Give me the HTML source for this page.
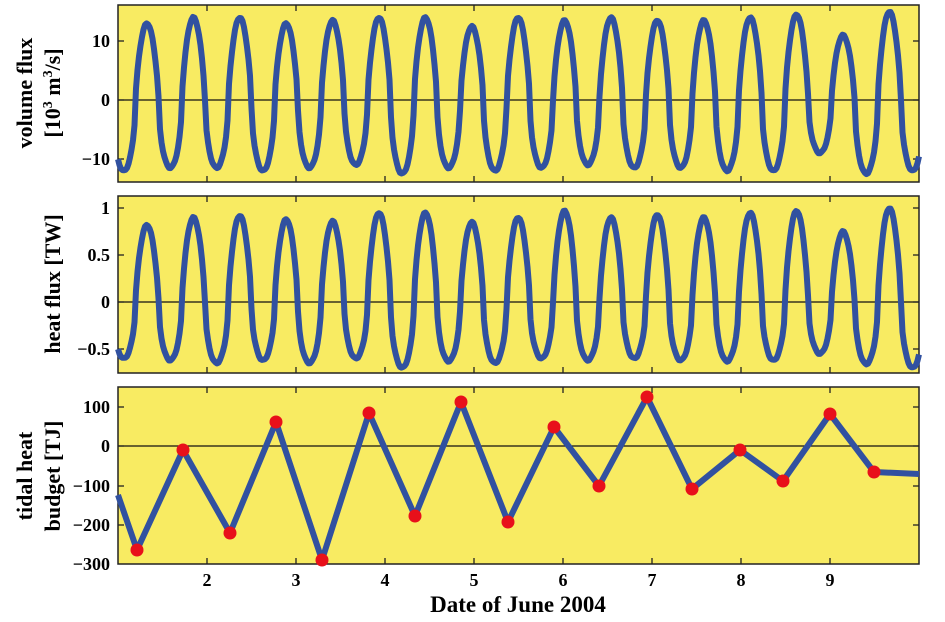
<!DOCTYPE html>
<html><head><meta charset="utf-8"><style>
body{margin:0;background:#fff;}
svg{display:block;font-family:"Liberation Serif",serif;font-weight:bold;}
</style></head><body>
<svg id="s" width="945" height="622" xmlns="http://www.w3.org/2000/svg">
<rect x="118" y="5" width="801" height="177" fill="#f8eb62" stroke="#222" stroke-width="1.5"/>
<rect x="118" y="196" width="801" height="177" fill="#f8eb62" stroke="#222" stroke-width="1.5"/>
<rect x="118" y="387" width="801" height="177" fill="#f8eb62" stroke="#222" stroke-width="1.5"/>
<line x1="118" y1="100" x2="919" y2="100" stroke="#111" stroke-width="1.3"/>
<line x1="118" y1="302" x2="919" y2="302" stroke="#111" stroke-width="1.3"/>
<line x1="118" y1="446" x2="919" y2="446" stroke="#111" stroke-width="1.3"/>
<g id="ticks" stroke="#222" stroke-width="1.3"></g>
<g font-size="18" text-anchor="end">
<text x="110" y="47">10</text><text x="110" y="106">0</text><text x="110" y="165">−10</text>
<text x="110" y="214">1</text><text x="110" y="261">0.5</text><text x="110" y="308">0</text><text x="110" y="355">−0.5</text>
<text x="110" y="413">100</text><text x="110" y="452">0</text><text x="110" y="492">−100</text><text x="110" y="531">−200</text><text x="110" y="570">−300</text>
</g>
<g font-size="18" text-anchor="middle" id="xl"></g>
<text x="518" y="612" font-size="23" text-anchor="middle">Date of June 2004</text>
<g font-size="22" text-anchor="middle">
<text transform="translate(32,93) rotate(-90)">volume flux</text>
<text transform="translate(60,93) rotate(-90)">[10<tspan font-size="14" dy="-8">3</tspan><tspan dy="8"> m</tspan><tspan font-size="14" dy="-8">3</tspan><tspan dy="8">/s]</tspan></text>
<text transform="translate(60,284) rotate(-90)">heat flux [TW]</text>
<text transform="translate(32,476) rotate(-90)">tidal heat</text>
<text transform="translate(60,476) rotate(-90)">budget [TJ]</text>
</g>
<path id="p1" fill="none" stroke="#3151a0" stroke-width="6" stroke-linejoin="round"/>
<path id="p2" fill="none" stroke="#3151a0" stroke-width="6" stroke-linejoin="round"/>
<path id="p3" fill="none" stroke="#3151a0" stroke-width="6" stroke-linejoin="round"/>
<g id="dots" fill="#e8101a"></g>
</svg>
<script>
var NS="http://www.w3.org/2000/svg";
function el(t,a,p){var e=document.createElementNS(NS,t);for(var k in a)e.setAttribute(k,a[k]);p.appendChild(e);return e;}
var tk=document.getElementById('ticks'),xl=document.getElementById('xl');
for(var d=2;d<=9;d++){var x=118+(d-1)*89;
[[5,182],[196,373],[387,564]].forEach(function(r){el('line',{x1:x,y1:r[0],x2:x,y2:r[0]+6},tk);el('line',{x1:x,y1:r[1],x2:x,y2:r[1]-6},tk);});
var t=el('text',{x:x,y:586},xl);t.textContent=d;}
[[41,100,159],[208,255,302,349],[407,446,486,525]].forEach(function(a,i){a.forEach(function(y){
el('line',{x1:118,y1:y,x2:124,y2:y},tk);el('line',{x1:919,y1:y,x2:913,y2:y},tk);});});
var pk1=[13,14,14,13,13.5,14,14,12.5,14,13.5,14,13.5,13.5,14,14.5,11,15];
var tr1=[-12,-11.5,-11.5,-12,-11.5,-11,-12.5,-11.5,-12,-11.5,-11,-11.5,-11.5,-12,-12,-9,-12.5,-12];
var pk2=[0.82,0.9,0.92,0.88,0.86,0.95,0.95,0.85,0.9,0.97,0.9,0.93,0.9,0.95,0.97,0.75,1.0];
var tr2=[-0.6,-0.62,-0.65,-0.62,-0.65,-0.6,-0.7,-0.63,-0.65,-0.6,-0.62,-0.6,-0.62,-0.63,-0.62,-0.55,-0.66,-0.7];
function gen(pk,tr,y0,sc){var s="";var P=46.4,x0=147;
for(var x=118;x<=919;x+=1.5){var ph=(x-x0)/P;var k=Math.round(ph);
var c=Math.cos(2*Math.PI*ph);var kp=Math.max(0,Math.min(pk.length-1,k));
var kt=Math.max(0,Math.min(tr.length-1,Math.floor(ph)+1));
var v=c>0?pk[kp]*Math.pow(c,0.75):tr[kt]*Math.pow(-c,0.5);
var y=y0-v*sc+Math.sin(x*0.9)*0.6;s+=(s?"L":"M")+x.toFixed(1)+","+y.toFixed(1);}return s;}
document.getElementById('p1').setAttribute('d',gen(pk1,tr1,100,5.9));
document.getElementById('p2').setAttribute('d',gen(pk2,tr2,302,94));
var pts=[[137,550],[183,450],[230,533],[276,422],[322,560],[369,413],[415,516],[461,402],[508,522],[554,427],[599,486],[647,397],[692,489],[740,450],[783,481],[830,414],[874,472]];
var d="M118,495";pts.forEach(function(p){d+="L"+p[0]+","+p[1];});d+="L919,474";
document.getElementById('p3').setAttribute('d',d);
var g=document.getElementById('dots');pts.forEach(function(p){el('circle',{cx:p[0],cy:p[1],r:6.5},g);});
</script>
</body></html>
